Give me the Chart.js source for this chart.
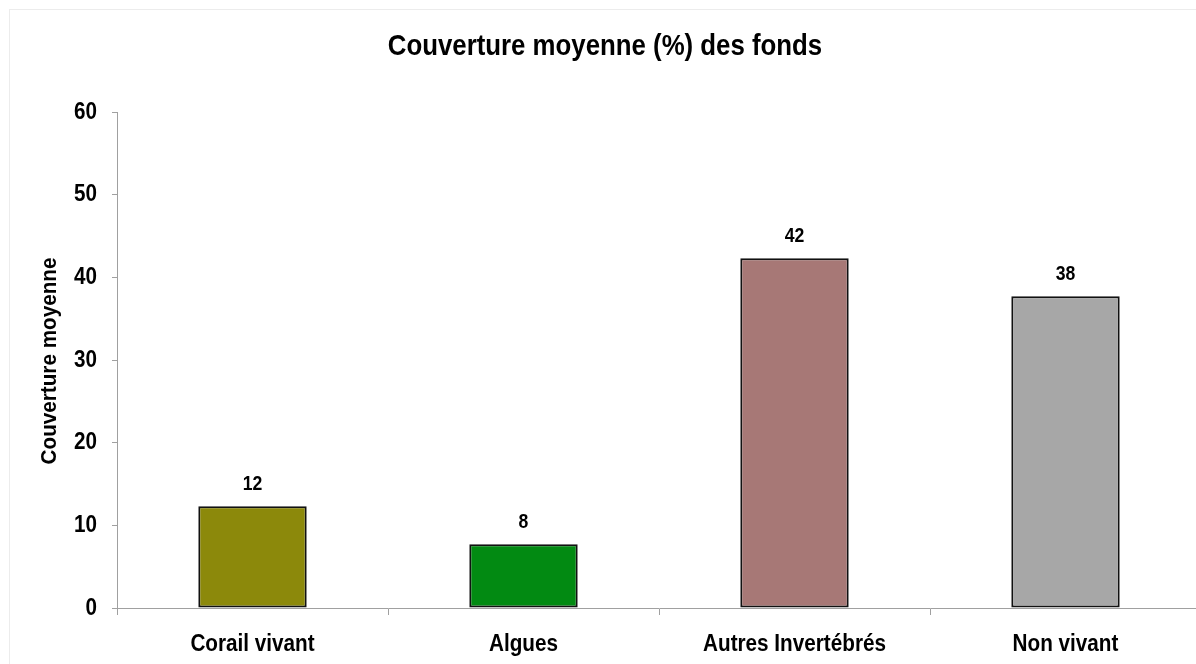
<!DOCTYPE html>
<html><head><meta charset="utf-8">
<script src="https://cdn.jsdelivr.net/npm/chart.js@4"></script>
<style>
html,body{margin:0;padding:0;background:#fff;overflow:hidden;width:1196px;height:664px;}
#wrap{position:absolute;left:0;top:0;width:1201px;height:664px;}
#frame{position:absolute;left:9px;top:9px;width:1190px;height:660px;border:1px solid #ececec;pointer-events:none;}
</style></head>
<body>
<div id="wrap"><canvas id="c" width="1201" height="664"></canvas></div>
<div id="frame"></div>
<script>
const categories = ["Corail vivant", "Algues", "Autres Invertébrés", "Non vivant"];
const values = [12.3, 7.7, 42.3, 37.7];
const barColors = ["#8c890b", "#028a12", "#a77876", "#a7a7a7"];
const yTicks = [0, 10, 20, 30, 40, 50, 60];
const chartTitle = "Couverture moyenne (%) des fonds";
const yTitle = "Couverture moyenne";

const FONT = "'Liberation Sans Narrow', 'Arial Narrow', 'Liberation Sans', Arial, sans-serif";

function narrowText(ctx, text, x, y, size, sx, align, rot) {
  ctx.save();
  ctx.translate(x, y);
  if (rot) ctx.rotate(rot);
  ctx.scale(sx, 1);
  ctx.font = "bold " + size + "px " + FONT;
  ctx.fillStyle = '#000';
  ctx.textAlign = align || 'center';
  ctx.textBaseline = 'middle';
  ctx.fillText(text, 0, 0);
  ctx.restore();
}

const overlay = {
  id: 'overlay',
  afterDatasetsDraw(chart) {
    const ctx = chart.ctx;
    const meta = chart.getDatasetMeta(0);
    const ys = chart.scales.y;
    // value labels
    meta.data.forEach((bar, i) => {
      narrowText(ctx, String(Math.round(values[i])), bar.x, bar.y - 22, 21, 0.84, 'center');
    });
    // category labels
    meta.data.forEach((bar, i) => {
      narrowText(ctx, categories[i], bar.x, 645, 23, 0.9, 'center');
    });
    // y tick labels
    yTicks.forEach(v => {
      narrowText(ctx, String(v), 97, ys.getPixelForValue(v), 24, 0.86, 'right');
    });
    // title
    narrowText(ctx, chartTitle, 605, 47, 30, 0.86, 'center');
    // y axis title
    narrowText(ctx, yTitle, 50, 361, 22, 0.94, 'center', -Math.PI / 2);
  }
};

new Chart(document.getElementById('c'), {
  type: 'bar',
  data: {
    labels: categories,
    datasets: [{
      data: values,
      backgroundColor: barColors,
      borderColor: '#111',
      borderWidth: 2,
      borderSkipped: false,
      categoryPercentage: 1,
      barPercentage: 0.4
    }]
  },
  options: {
    responsive: false,
    animation: false,
    devicePixelRatio: 1,
    layout: { padding: { top: 112, left: 0, right: 0, bottom: 0 } },
    plugins: { legend: { display: false }, tooltip: { enabled: false }, title: { display: false } },
    scales: {
      y: {
        min: 0, max: 60,
        afterFit(s) { s.width = 117; },
        afterBuildTicks(s) { s.ticks = yTicks.map(v => ({ value: v })); },
        border: { display: true, color: '#a0a0a0', width: 1 },
        grid: { display: true, drawOnChartArea: false, drawTicks: true, tickLength: 5, color: '#a0a0a0' },
        ticks: { display: false }
      },
      x: {
        afterFit(s) { s.height = 56; },
        border: { display: true, color: '#a0a0a0', width: 1 },
        grid: { display: true, offset: true, drawOnChartArea: false, drawTicks: true, tickLength: 7, color: '#a0a0a0' },
        ticks: { display: false }
      }
    }
  },
  plugins: [overlay]
});
</script>
</body></html>
